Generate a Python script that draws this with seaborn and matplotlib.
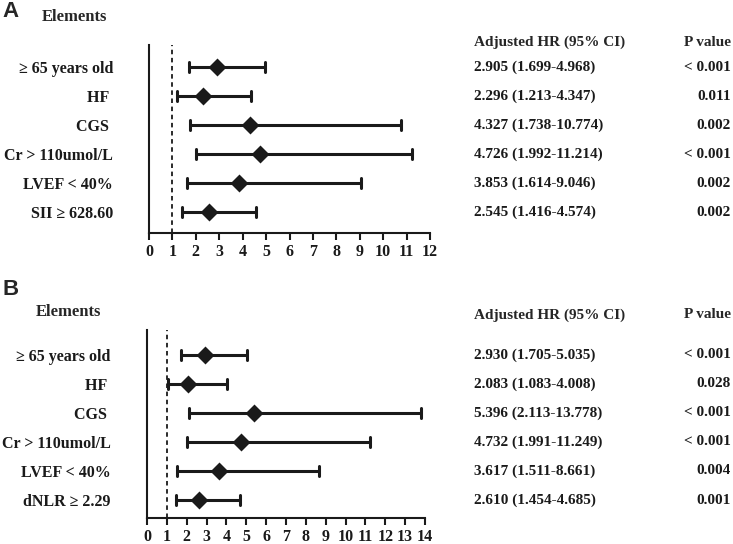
import pandas as pd
import matplotlib.pyplot as plt
import seaborn as sns
from matplotlib.transforms import blended_transform_factory

sns.set_style('ticks')
plt.rcParams['font.family'] = ['Liberation Serif', 'DejaVu Serif']
plt.rcParams['font.weight'] = 'bold'

# ---- data -------------------------------------------------------------
labels_a = ['≥ 65 years old', 'HF ', 'CGS ', 'Cr > 110umol/L', 'LVEF < 40%', 'SII ≥ 628.60']
hr_a = [2.905, 2.296, 4.327, 4.726, 3.853, 2.545]
lo_a = [1.699, 1.213, 1.738, 1.992, 1.614, 1.416]
hi_a = [4.968, 4.347, 10.774, 11.214, 9.046, 4.574]
txt_a = ['2.905 (1.699-4.968)', '2.296 (1.213-4.347)', '4.327 (1.738-10.774)',
         '4.726 (1.992-11.214)', '3.853 (1.614-9.046)', '2.545 (1.416-4.574)']
p_a = ['< 0.001', '0.011', '0.002', '< 0.001', '0.002', '0.002']

labels_b = ['≥ 65 years old', 'HF ', 'CGS ', 'Cr > 110umol/L', 'LVEF < 40%', 'dNLR ≥ 2.29']
hr_b = [2.930, 2.083, 5.396, 4.732, 3.617, 2.610]
lo_b = [1.705, 1.083, 2.113, 1.991, 1.511, 1.454]
hi_b = [5.035, 4.008, 13.778, 11.249, 8.661, 4.685]
txt_b = ['2.930 (1.705-5.035)', '2.083 (1.083-4.008)', '5.396 (2.113-13.778)',
         '4.732 (1.991-11.249)', '3.617 (1.511-8.661)', '2.610 (1.454-4.685)']
p_b = ['< 0.001', '0.028', '< 0.001', '< 0.001', '0.004', '0.001']


def long_form(labels, hr, lo, hi):
    rows = []
    for lab, h, l, u in zip(labels, hr, lo, hi):
        for v in (l, h, u):
            rows.append({'element': lab, 'value': v})
    return pd.DataFrame(rows)


fig = plt.figure(figsize=(7.33, 5.44), dpi=100)
ax_a = fig.add_axes([0.2033, 0.5717, 0.3834, 0.3456])
ax_b = fig.add_axes([0.2005, 0.0478, 0.3793, 0.3456])

panels = [
    (ax_a, labels_a, hr_a, lo_a, hi_a, txt_a, p_a, 12, (5.72, -0.76)),
    (ax_b, labels_b, hr_b, lo_b, hi_b, txt_b, p_b, 14, (5.62, -0.86)),
]

ink = '#1a1a1a'
for ax, labels, hr, lo, hi, txt, pv, xmax, ylim in panels:
    df = long_form(labels, hr, lo, hi)
    # median of (lower, HR, upper) is the HR, errorbar spans lower..upper
    sns.pointplot(data=df, x='value', y='element', order=labels,
                  estimator='median', errorbar=lambda v: (v.min(), v.max()),
                  markers='D', linestyles='none', color=ink,
                  capsize=0.36, err_kws={'linewidth': 2.2}, markersize=7, ax=ax)
    ax.axvline(1, color=ink, linestyle='--', linewidth=1.3, dashes=(2.5, 2))
    ax.set_xlim(0, xmax)
    ax.set_ylim(*ylim)
    ax.set_xticks(range(0, xmax + 1))
    ax.set_xlabel('')
    ax.set_ylabel('')
    sns.despine(ax=ax, top=True, right=True)
    for s in ('left', 'bottom'):
        ax.spines[s].set_linewidth(1.5)
        ax.spines[s].set_color(ink)
    ax.tick_params(axis='x', length=5, width=1.5, labelsize=11.5, pad=3, colors=ink)
    ax.tick_params(axis='y', length=0, pad=26, labelsize=11.5, colors=ink)
    for t in ax.get_xticklabels() + ax.get_yticklabels():
        t.set_fontweight('bold')

    tr = blended_transform_factory(fig.transFigure, ax.transData)
    for i, (s, p) in enumerate(zip(txt, pv)):
        ax.text(0.6467, i, s, transform=tr, ha='left', va='center',
                fontsize=11, fontweight='bold', color=ink)
        ax.text(0.997, i, p, transform=tr, ha='right', va='center',
                fontsize=11, fontweight='bold', color=ink)

# headers
fig.text(0.003, 0.978, 'A', fontsize=16, fontweight='bold', family='Liberation Sans', va='center')
fig.text(0.102, 0.969, 'Elements', fontsize=12, fontweight='bold', ha='center', va='center')
fig.text(0.6467, 0.922, 'Adjusted HR (95% CI)', fontsize=11, fontweight='bold', va='center')
fig.text(0.997, 0.922, 'P value', fontsize=11, fontweight='bold', ha='right', va='center')

fig.text(0.003, 0.467, 'B', fontsize=16, fontweight='bold', family='Liberation Sans', va='center')
fig.text(0.094, 0.426, 'Elements', fontsize=12, fontweight='bold', ha='center', va='center')
fig.text(0.6467, 0.421, 'Adjusted HR (95% CI)', fontsize=11, fontweight='bold', va='center')
fig.text(0.997, 0.421, 'P value', fontsize=11, fontweight='bold', ha='right', va='center')

fig.savefig('out.png', dpi=100)
